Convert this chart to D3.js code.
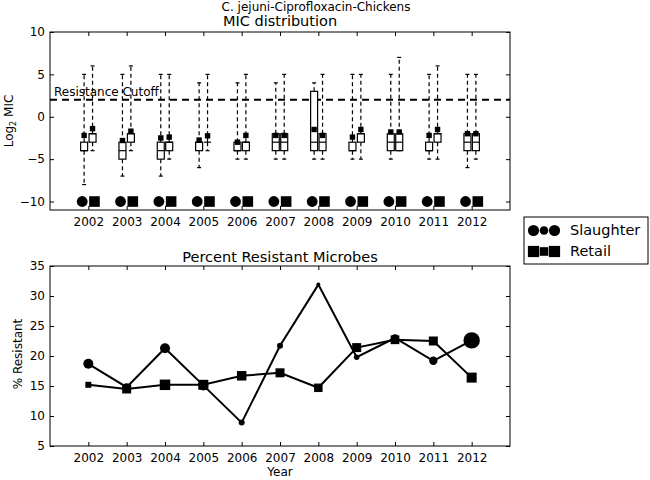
<!DOCTYPE html>
<html>
<head>
<meta charset="utf-8">
<script src="https://cdn.jsdelivr.net/npm/d3@7"></script>
<style>
body { margin: 0; background: #fff; }
svg { font-family: "DejaVu Sans", sans-serif; }
</style>
</head>
<body>
<div id="container"></div>
<script>
/* DATA */
const years = [2002, 2003, 2004, 2005, 2006, 2007, 2008, 2009, 2010, 2011, 2012]
const micTicks = [-10, -5, 0, 5, 10]
const pctTicks = [5, 10, 15, 20, 25, 30, 35]
const cutoff = 2
const markerRow = -10

// log2 MIC boxplot stats, slaughter
const slaughterLow  = [-8, -7, -7, -6, -5, -5, -5, -5, -5, -5, -6]
const slaughterQ1   = [-4, -5, -5, -4, -4, -4, -4, -4, -4, -4, -4]
const slaughterMed  = [-4, -4, -4, -3, -4, -3, -3, -4, -3, -4, -3]
const slaughterQ3   = [-3, -3, -3, -3, -3, -2, 3, -3, -2, -3, -2]
const slaughterHigh = [5, 5, 5, 4, 4, 4, 4, 5, 5, 5, 5]
const slaughterMean = [-2.2, -2.8, -2.5, -2.75, -3.0, -2.2, -1.5, -2.4, -1.8, -2.2, -2.0]

// log2 MIC boxplot stats, retail
const retailLow  = [-4, -4, -5, -4, -5, -5, -5, -5, -4, -5, -5]
const retailQ1   = [-3, -3, -4, -3, -4, -4, -4, -3, -4, -3, -4]
const retailMed  = [-2, -2, -3, -3, -3, -3, -3, -2, -3, -2, -3]
const retailQ3   = [-2, -2, -3, -3, -3, -2, -2, -2, -2, -2, -2]
const retailHigh = [6, 6, 5, 5, 5, 5, 5, 5, 7, 6, 5]
const retailMean = [-1.4, -1.7, -2.4, -2.25, -2.2, -2.2, -2.2, -1.5, -1.8, -1.5, -2.0]

// percent resistant and isolate counts (marker size)
const slaughterPct = [18.7, 14.8, 21.3, 15.1, 8.9, 21.7, 31.9, 19.8, 23.0, 19.2, 22.6]
const retailPct    = [15.2, 14.5, 15.2, 15.2, 16.7, 17.2, 14.7, 21.4, 22.7, 22.5, 16.4]
const slaughterN   = [100, 64, 100, 100, 36, 36, 16, 30, 54, 70, 270]
const retailN      = [36, 81, 110, 100, 90, 81, 72, 81, 76, 81, 100]

/* LAYOUT */
const width = 650, height = 480
const top1 = { left: 50, right: 510, top: 32, bottom: 210 }
const top2 = { left: 50, right: 510, top: 266, bottom: 446 }
const boxShift = 0.11, boxW = 7, capW = 4, markShift = 0.16

const svg = d3.select("#container")
  .append("svg")
  .attr("width", width)
  .attr("height", height)

/* SCALES */
const xScale1 = d3.scaleLinear().domain([2001, 2013]).range([top1.left, top1.right])
const yScale1 = d3.scaleLinear().domain([-11, 10]).range([top1.bottom, top1.top])
const xScale2 = d3.scaleLinear().domain([2001, 2013]).range([top2.left, top2.right])
const yScale2 = d3.scaleLinear().domain([5, 35]).range([top2.bottom, top2.top])
const rScale = d3.scaleSqrt().domain([0, 256]).range([0, 8])

// axes with inward ticks on all four sides
function frame(p, xs, ys, yTicks) {
  const g = svg.append("g")
  g.append("g")
    .attr("transform", `translate(0,${p.bottom})`)
    .call(d3.axisBottom(xs).tickValues(years).tickFormat(d3.format("d")).tickSize(-4).tickPadding(7.5).tickSizeOuter(0))
  g.append("g")
    .attr("transform", `translate(0,${p.top})`)
    .call(d3.axisTop(xs).tickValues(years).tickFormat("").tickSize(-4).tickSizeOuter(0))
  g.append("g")
    .attr("transform", `translate(${p.left},0)`)
    .call(d3.axisLeft(ys).tickValues(yTicks).tickSize(-4).tickPadding(5).tickSizeOuter(0))
  g.append("g")
    .attr("transform", `translate(${p.right},0)`)
    .call(d3.axisRight(ys).tickValues(yTicks).tickFormat("").tickSize(-4).tickSizeOuter(0))
  g.selectAll(".domain").remove()
  g.selectAll(".tick text").attr("font-size", 12).attr("font-family", "DejaVu Sans").attr("fill", "#000")
  g.selectAll(".tick line").attr("stroke", "#000")
  g.append("rect")
    .attr("x", p.left).attr("y", p.top)
    .attr("width", p.right - p.left).attr("height", p.bottom - p.top)
    .attr("fill", "none").attr("stroke", "#000").attr("stroke-width", 1)
}

/* TOP PANEL: MIC distribution */
const plot1 = svg.append("g")

plot1.append("line")
  .attr("x1", top1.left).attr("x2", top1.right)
  .attr("y1", yScale1(cutoff)).attr("y2", yScale1(cutoff))
  .attr("stroke", "#000").attr("stroke-width", 2).attr("stroke-dasharray", "7,5")

plot1.append("text")
  .attr("x", 54).attr("y", yScale1(cutoff) - 3.5)
  .attr("font-size", 12)
  .text("Resistance Cutoff")

const groups = [
  { shift: -boxShift, low: slaughterLow, q1: slaughterQ1, med: slaughterMed, q3: slaughterQ3, high: slaughterHigh, mean: slaughterMean },
  { shift: boxShift, low: retailLow, q1: retailQ1, med: retailMed, q3: retailQ3, high: retailHigh, mean: retailMean }
]

groups.forEach(gr => {
  const rows = years.map((y, i) => ({ x: xScale1(y + gr.shift), low: gr.low[i], q1: gr.q1[i], med: gr.med[i], q3: gr.q3[i], high: gr.high[i], mean: gr.mean[i] }))
  const box = plot1.append("g").selectAll("g").data(rows).join("g")
  // whiskers
  box.append("line")
    .attr("x1", d => d.x).attr("x2", d => d.x)
    .attr("y1", d => yScale1(d.q3)).attr("y2", d => yScale1(d.high))
    .attr("stroke", "#000").attr("stroke-width", 1.2).attr("stroke-dasharray", "4,3")
  box.append("line")
    .attr("x1", d => d.x).attr("x2", d => d.x)
    .attr("y1", d => yScale1(d.q1)).attr("y2", d => yScale1(d.low))
    .attr("stroke", "#000").attr("stroke-width", 1.2).attr("stroke-dasharray", "4,3")
  box.append("line")
    .attr("x1", d => d.x - capW / 2).attr("x2", d => d.x + capW / 2)
    .attr("y1", d => yScale1(d.high)).attr("y2", d => yScale1(d.high))
    .attr("stroke", "#000").attr("stroke-width", 1.2)
  box.append("line")
    .attr("x1", d => d.x - capW / 2).attr("x2", d => d.x + capW / 2)
    .attr("y1", d => yScale1(d.low)).attr("y2", d => yScale1(d.low))
    .attr("stroke", "#000").attr("stroke-width", 1.2)
  // box
  box.append("rect")
    .attr("x", d => d.x - boxW / 2).attr("width", boxW)
    .attr("y", d => yScale1(d.q3)).attr("height", d => yScale1(d.q1) - yScale1(d.q3))
    .attr("fill", "#fff").attr("stroke", "#000").attr("stroke-width", 1.2)
  box.append("line")
    .attr("x1", d => d.x - boxW / 2).attr("x2", d => d.x + boxW / 2)
    .attr("y1", d => yScale1(d.med)).attr("y2", d => yScale1(d.med))
    .attr("stroke", "#000").attr("stroke-width", 1.2)
  // mean marker
  box.append("rect")
    .attr("x", d => d.x - 2.7).attr("y", d => yScale1(d.mean) - 2.7)
    .attr("width", 5.4).attr("height", 5.4)
    .attr("fill", "#000")
})

// marker row at the bottom
plot1.append("g").selectAll("circle").data(years).join("circle")
  .attr("cx", d => xScale1(d - markShift))
  .attr("cy", yScale1(markerRow))
  .attr("r", 5.4)
  .attr("fill", "#000")
plot1.append("g").selectAll("rect").data(years).join("rect")
  .attr("x", d => xScale1(d + markShift) - 5.3)
  .attr("y", yScale1(markerRow) - 5.3)
  .attr("width", 10.6).attr("height", 10.6)
  .attr("fill", "#000")

frame(top1, xScale1, yScale1, micTicks)

/* BOTTOM PANEL: percent resistant */
const plot2 = svg.append("g")
const line = d3.line().x(d => xScale2(d[0])).y(d => yScale2(d[1]))

plot2.append("path")
  .datum(years.map((y, i) => [y, slaughterPct[i]]))
  .attr("d", line)
  .attr("fill", "none").attr("stroke", "#000").attr("stroke-width", 2)
plot2.selectAll(".sl").data(years).join("circle")
  .attr("class", "sl")
  .attr("cx", d => xScale2(d))
  .attr("cy", (d, i) => yScale2(slaughterPct[i]))
  .attr("r", (d, i) => rScale(slaughterN[i]))
  .attr("fill", "#000")

plot2.append("path")
  .datum(years.map((y, i) => [y, retailPct[i]]))
  .attr("d", line)
  .attr("fill", "none").attr("stroke", "#000").attr("stroke-width", 2)
plot2.selectAll(".rt").data(years).join("rect")
  .attr("class", "rt")
  .attr("x", (d, i) => xScale2(d) - rScale(retailN[i]))
  .attr("y", (d, i) => yScale2(retailPct[i]) - rScale(retailN[i]))
  .attr("width", (d, i) => 2 * rScale(retailN[i]))
  .attr("height", (d, i) => 2 * rScale(retailN[i]))
  .attr("fill", "#000")

frame(top2, xScale2, yScale2, pctTicks)

/* TITLES AND LABELS */
svg.append("text")
  .attr("x", 316).attr("y", 11)
  .attr("text-anchor", "middle").attr("font-size", 12)
  .text("C. jejuni-Ciprofloxacin-Chickens")
svg.append("text")
  .attr("x", (top1.left + top1.right) / 2).attr("y", 26)
  .attr("text-anchor", "middle").attr("font-size", 14.5)
  .text("MIC distribution")
svg.append("text")
  .attr("x", (top2.left + top2.right) / 2).attr("y", 262)
  .attr("text-anchor", "middle").attr("font-size", 14.5)
  .text("Percent Resistant Microbes")

const ylab1 = svg.append("text")
  .attr("transform", `translate(13,${(top1.top + top1.bottom) / 2}) rotate(-90)`)
  .attr("text-anchor", "middle").attr("font-size", 12)
ylab1.append("tspan").text("Log")
ylab1.append("tspan").attr("font-size", 8).attr("dy", 3).text("2")
ylab1.append("tspan").attr("dy", -3).text(" MIC")

svg.append("text")
  .attr("transform", `translate(21.5,${(top2.top + top2.bottom) / 2 - 2}) rotate(-90)`)
  .attr("text-anchor", "middle").attr("font-size", 12)
  .text("% Resistant")

svg.append("text")
  .attr("x", (top2.left + top2.right) / 2).attr("y", 476)
  .attr("text-anchor", "middle").attr("font-size", 12)
  .text("Year")

/* LEGEND */
const legend = svg.append("g")
legend.append("rect")
  .attr("x", 524).attr("y", 217).attr("width", 124).attr("height", 47)
  .attr("fill", "#fff").attr("stroke", "#000").attr("stroke-width", 1)

const legendSizes = [5.6, 4.3, 5.6]
const legendX = [533.5, 544, 554.5]
legend.selectAll(".lc").data(legendSizes).join("circle")
  .attr("class", "lc")
  .attr("cx", (d, i) => legendX[i]).attr("cy", 230.5)
  .attr("r", d => d).attr("fill", "#000")
legend.selectAll(".ls").data(legendSizes).join("rect")
  .attr("class", "ls")
  .attr("x", (d, i) => legendX[i] - d).attr("y", d => 251.5 - d)
  .attr("width", d => 2 * d).attr("height", d => 2 * d).attr("fill", "#000")

legend.append("text").attr("x", 570).attr("y", 235).attr("font-size", 14.5).text("Slaughter")
legend.append("text").attr("x", 570).attr("y", 256).attr("font-size", 14.5).text("Retail")
</script>
</body>
</html>
